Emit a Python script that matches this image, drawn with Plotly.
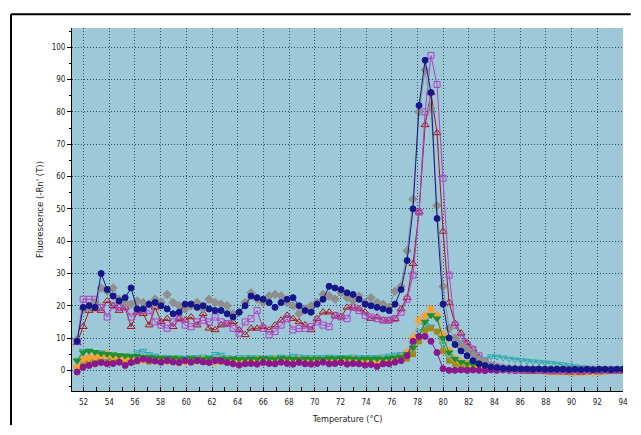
import plotly.graph_objects as go

temperature = [
    51.50, 51.97, 52.43, 52.90, 53.37, 53.84, 54.30, 54.77, 55.24, 55.70,
    56.17, 56.64, 57.10, 57.57, 58.04, 58.51, 58.97, 59.44, 59.91, 60.37,
    60.84, 61.31, 61.77, 62.24, 62.71, 63.18, 63.64, 64.11, 64.58, 65.04,
    65.51, 65.98, 66.45, 66.91, 67.38, 67.85, 68.31, 68.78, 69.25, 69.71,
    70.18, 70.65, 71.12, 71.58, 72.05, 72.52, 72.98, 73.45, 73.92, 74.38,
    74.85, 75.32, 75.79, 76.25, 76.72, 77.19, 77.65, 78.12, 78.59, 79.05,
    79.52, 79.99, 80.46, 80.92, 81.39, 81.86, 82.32, 82.79, 83.26, 83.73,
    84.19, 84.66, 85.13, 85.59, 86.06, 86.53, 86.99, 87.46, 87.93, 88.40,
    88.86, 89.33, 89.80, 90.26, 90.73, 91.20, 91.66, 92.13, 92.60, 93.07,
    93.53, 94.00]

navy_circles = [
    9, 19.5, 20, 19.5, 30, 25, 23, 21.5, 22.5, 25.5,
    19, 19, 20.5, 21, 20, 19, 17.5, 18, 20.5, 20.5,
    19.5, 20, 19, 18.5, 18.5, 17.5, 16.5, 18, 20, 23,
    22.5, 22, 21, 19.5, 21, 22, 22.5, 20, 18.5, 18,
    20.5, 22, 26, 25.5, 25, 24, 23.5, 22, 20.5, 20,
    19.5, 19, 18.5, 20.5, 25, 34, 50, 82, 96, 86,
    47, 20.5, 10, 8, 6, 4.5, 3, 2, 1.5, 1,
    0.8, 0.6, 0.5, 0.5, 0.4, 0.4, 0.3, 0.4, 0.3, 0.3,
    0.3, 0.3, 0.2, 0.3, 0.2, 0.3, 0.2, 0.3, 0.3, 0.2, 0.3, 0.3]

gray_diamonds = [
    9.5, 19, 19.5, 21, 25.5, 24.5, 25.5, 22, 21, 20.5,
    21.5, 21, 20.5, 22, 21, 23.5, 21, 20, 19, 20,
    21, 19, 22, 21, 20.5, 20, 17.5, 18, 21, 24,
    22, 21, 23, 23.5, 23, 21, 20, 17.5, 19, 20,
    21, 23.5, 23, 22, 24, 22.5, 21.5, 23, 21, 22.5,
    21, 20.5, 19.5, 24.5, 26, 37, 53, 80, 93, 81,
    51, 26, 13, 10, 8, 6.5, 5, 3.5, 2.5, 1.5,
    1, 0.8, 0.6, 0.5, 0.5, 0.4, 0.4, 0.3, 0.4, 0.3,
    0.3, 0.3, 0.3, 0.2, 0.3, 0.2, 0.2, 0.3, 0.2, 0.3, 0.2, 0.3]

magenta_squares = [
    9, 22, 22, 22, 19.5, 16.5, 20, 19.5, 19.5, 16.5,
    18.5, 18.5, 18.5, 15, 14, 13, 15, 16, 14, 13.5,
    15, 15.5, 15, 16.5, 15, 14.5, 13, 11.5, 15, 16,
    18.5, 13, 11, 12, 14, 16, 12.5, 13, 13, 13.5,
    15, 14, 13.5, 17, 16.5, 16, 19.5, 18.5, 17, 16.5,
    16, 15.5, 15.5, 16, 18, 22, 29.5, 49, 80, 97.5,
    88.5, 59.5, 29.5, 14, 10, 8, 6.5, 4.5, 2.5, 1.5,
    1, 0.5, 0.3, 0.2, 0.2, 0.1, 0.1, 0, 0, -0.1,
    0, -0.1, 0, 0, -0.1, 0, 0.1, 0, 0, 0.1, 0, 0]

red_triangles = [
    8.5, 13.5, 18.5, 19, 18.5, 21.5, 20, 18.5, 19.5, 13.5,
    18, 17.5, 14, 19.5, 15, 16, 13.5, 16, 15.5, 16.5,
    14, 17.5, 13, 12.5, 14, 14.5, 15, 12.5, 11, 13,
    13, 13.5, 12.5, 14, 15.5, 17, 16, 15, 14, 12.5,
    16, 18, 18, 17, 16.5, 19.5, 19.5, 19, 18, 16,
    16.5, 15.5, 15.5, 16, 19, 22.5, 33, 49, 76, 86,
    73.5, 43, 21, 14.5, 11.5, 8.5, 6.5, 4, 2, 1.5,
    1, 0.5, 0.3, 0, -0.2, -0.3, -0.3, -0.4, -0.4, -0.5,
    -0.5, -0.5, -0.6, -0.5, -0.6, -0.5, -0.4, -0.5, -0.4, -0.3, -0.3, -0.2]

orange_diamonds = [
    1.0, 3.5, 4.0, 4.2, 4.5, 5.0, 4.3, 4.0, 3.8, 3.5,
    3.6, 3.2, 3.5, 3.0, 3.3, 2.9, 3.4, 3.1, 2.8, 3.2,
    3.0, 3.3, 3.1, 2.7, 3.2, 3.0, 2.9, 2.6, 3.1, 3.0,
    3.2, 2.9, 3.0, 3.3, 2.8, 3.1, 3.0, 3.2, 2.9, 3.0,
    3.1, 2.8, 3.2, 3.0, 2.9, 3.1, 3.3, 2.9, 3.0, 2.8,
    3.0, 3.1, 3.2, 3.5, 4.0, 5.5, 10.0, 15.5, 17.0, 19.0,
    17.0, 11.0, 6.0, 3.5, 2.5, 2.0, 1.6, 1.3, 1.0, 0.8,
    0.6, 0.5, 0.4, 0.3, 0.2, 0.1, 0.0, -0.1, -0.2, -0.3,
    -0.3, -0.4, -0.5, -0.5, -0.6, -0.5, -0.5, -0.4, -0.3, -0.2, -0.1, 0.0]

green_triangles = [
    3.0, 5.5, 6.0, 5.6, 5.2, 5.0, 4.8, 4.6, 4.5, 4.3,
    4.4, 4.1, 4.0, 3.9, 3.8, 3.7, 3.8, 3.6, 3.5, 3.7,
    3.6, 3.5, 3.7, 3.4, 3.6, 3.5, 3.6, 3.4, 3.5, 3.6,
    3.5, 3.7, 3.6, 3.5, 3.8, 3.6, 3.5, 3.4, 3.6, 3.5,
    3.6, 3.5, 3.7, 3.6, 3.8, 3.7, 3.6, 3.5, 3.6, 3.5,
    3.6, 3.5, 3.7, 3.9, 4.2, 5.0, 7.0, 10.5, 15.0, 17.0,
    16.0, 10.0, 5.5, 3.5, 2.5, 2.0, 1.8, 1.5, 1.2, 1.0,
    0.9, 0.8, 0.7, 0.7, 0.6, 0.6, 0.6, 0.5, 0.5, 0.5,
    0.5, 0.5, 0.5, 0.4, 0.5, 0.4, 0.4, 0.5, 0.4, 0.4, 0.4, 0.4]

teal_triangles = [
    3.0, 6.0, 6.0, 5.5, 5.5, 5.0, 5.0, 4.5, 4.5, 4.5,
    5.5, 6.0, 5.0, 4.5, 4.0, 4.0, 4.0, 4.0, 3.8, 4.0,
    4.0, 4.2, 4.0, 5.0, 4.8, 4.0, 3.8, 4.0, 4.0, 4.0,
    4.0, 3.8, 4.0, 4.0, 4.2, 4.0, 4.5, 4.2, 4.0, 4.0,
    4.0, 4.0, 4.2, 4.0, 4.0, 4.0, 4.2, 4.0, 4.0, 4.0,
    4.0, 4.2, 4.5, 4.8, 5.0, 5.5, 8.0, 12.0, 14.0, 13.5,
    12.0, 8.0, 4.5, 3.0, 2.5, 2.5, 2.5, 2.8, 3.5, 4.3,
    4.2, 3.9, 3.6, 3.3, 3.1, 2.9, 2.7, 2.6, 2.4, 2.2,
    2.0, 1.8, 1.5, 1.2, 0.9, 0.8, 0.7, 0.7, 0.6, 0.6, 0.6, 0.5]

olive_squares = [
    0.0, 2.0, 2.6, 3.0, 3.2, 2.6, 3.0, 3.1, 2.5, 3.0,
    2.8, 3.2, 2.7, 2.9, 2.6, 3.0, 2.8, 2.5, 2.9, 2.7,
    2.9, 2.6, 2.8, 3.0, 2.7, 2.5, 2.8, 2.6, 2.9, 2.7,
    2.8, 3.0, 2.7, 2.6, 2.9, 2.8, 2.7, 3.0, 2.8, 2.6,
    2.8, 2.9, 2.7, 2.8, 3.0, 2.7, 2.9, 2.8, 2.6, 2.7,
    2.8, 2.6, 2.9, 3.0, 3.2, 3.6, 5.0, 9.0, 12.5, 13.0,
    12.0, 6.0, 3.0, 2.0, 1.5, 1.2, 1.0, 0.8, 0.6, 0.5,
    0.4, 0.3, 0.2, 0.1, 0.0, -0.1, -0.2, -0.2, -0.3, -0.4,
    -0.4, -0.5, -0.5, -0.6, -0.6, -0.5, -0.5, -0.4, -0.3, -0.2, -0.1, 0.0]

purple_circles = [
    -0.5, 1.0, 1.5, 2.0, 2.4, 2.0, 2.1, 2.5, 1.5, 2.4,
    3.0, 3.5, 3.1, 2.9, 2.5, 3.0, 2.6, 2.4, 3.0, 2.5,
    3.0, 2.6, 2.4, 3.0, 2.9, 2.4, 2.0, 1.6, 2.0, 2.1,
    1.9, 2.4, 2.1, 2.0, 2.5, 2.1, 1.9, 2.4, 2.0, 1.9,
    2.1, 2.5, 2.0, 2.1, 2.4, 1.9, 2.1, 2.0, 1.6, 1.8,
    1.2, 2.0, 2.0, 2.5, 3.0, 4.5, 9.0, 10.5, 10.5, 9.0,
    5.5, 0.5, 0.0, 0.0, 0.1, 0.0, 0.1, 0.0, -0.1, 0.1,
    0.0, 0.1, 0.0, -0.1, 0.0, 0.1, 0.0, 0.0, -0.1, 0.0,
    0.1, 0.0, 0.0, -0.1, 0.0, 0.1, 0.0, -0.1, 0.0, 0.1, 0.0, 0.0]

x_tick_values = list(range(52, 95, 2))
y_tick_values = list(range(0, 101, 10))

# (values, color, symbol, size) drawn bottom to top
series = [
    (teal_triangles, "#27a9ad", "triangle-down-open", 6.5),
    (olive_squares, "#a08a1c", "square", 5),
    (orange_diamonds, "#f4a03a", "diamond", 6.5),
    (green_triangles, "#1f8f2c", "triangle-down", 6.5),
    (purple_circles, "#8c168c", "circle", 6),
    (red_triangles, "#a3161e", "triangle-up-open", 7),
    (magenta_squares, "#b33fc6", "square-open", 6),
    (gray_diamonds, "#8f8f8f", "diamond", 6.5),
    (navy_circles, "#16168a", "circle", 6),
]

fig = go.Figure()
for vals, col, sym, sz in series:
    fig.add_trace(go.Scatter(
        x=temperature, y=vals, mode="lines+markers",
        line=dict(color=col, width=1),
        marker=dict(symbol=sym, size=sz, color=col, line=dict(color=col, width=1)),
        showlegend=False, hoverinfo="skip"))

font_family = "Liberation Sans Narrow, DejaVu Sans Condensed, Liberation Sans, Arial"
grid_color = "#34505e"

# page body has an 8px margin; keep the figure (and everything in it) inside the window
fig.update_layout(
    width=624, height=418, autosize=False,
    margin=dict(l=64, r=9, t=20, b=35, autoexpand=False),
    paper_bgcolor="white",
    plot_bgcolor="#9cc8d7",
    font=dict(family=font_family, size=8, color="#222222"),
    xaxis=dict(
        range=[51.1, 94.0], tickmode="array", tickvals=x_tick_values,
        ticktext=[str(v) for v in x_tick_values], automargin=False,
        ticks="inside", ticklen=4, tickcolor="black", tickwidth=1,
        showline=True, linecolor="black", linewidth=1, mirror=False,
        showgrid=True, gridcolor=grid_color, gridwidth=1, griddash="1px,2px",
        zeroline=False, ticklabelstandoff=3,
        minor=dict(dtick=1, tick0=52, ticks="inside", ticklen=4, tickcolor="black", showgrid=False),
        tickfont=dict(size=8),
        title=dict(text="Temperature (°C)", font=dict(size=9), standoff=10),
    ),
    yaxis=dict(
        range=[-6.4, 106], tickmode="array", tickvals=y_tick_values,
        ticktext=[str(v) for v in y_tick_values], automargin=False,
        ticks="outside", ticklen=4, tickcolor="black", tickwidth=1,
        showline=True, linecolor="black", linewidth=1,
        showgrid=True, gridcolor=grid_color, gridwidth=1, griddash="1px,2px",
        zeroline=False,
        minor=dict(dtick=5, tick0=0, ticks="outside", ticklen=2, tickcolor="black", showgrid=False),
        tickfont=dict(size=8),
        title=dict(text="Fluorescence (-Rn' (T))", font=dict(size=9.5), standoff=6),
    ),
    shapes=[
        dict(type="line", xref="paper", yref="paper",
             x0=-0.1107, x1=-0.1107, y0=-0.094, y1=1.0377,
             line=dict(color="black", width=2), layer="below"),
        dict(type="line", xref="paper", yref="paper",
             x0=-0.1107, x1=1.014, y0=1.0377, y1=1.0377,
             line=dict(color="black", width=2), layer="below"),
    ],
)

fig.write_html("out.html", config=dict(responsive=False))
